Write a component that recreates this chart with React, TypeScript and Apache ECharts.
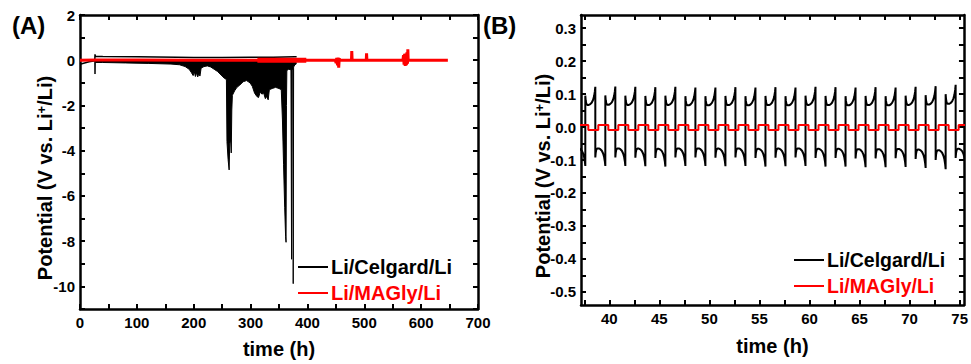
import { useEffect, useRef } from 'react';
import * as echarts from 'echarts';

const FONT = '"Liberation Sans", Arial, Helvetica, sans-serif';
const BLACK = '#000000';
const RED = '#ff0000';

// ---------------- Panel A data ----------------
const seriesNames = ['Li/Celgard/Li', 'Li/MAGly/Li'];

// Li/Celgard/Li : upper envelope of the trace (hours, V)
const celgardA_upperT = [0, 8, 16, 24, 26, 26.4, 27, 40, 100, 170, 200, 250, 300, 340, 378, 381];
const celgardA_upperV = [-0.18, -0.12, -0.07, -0.03, -0.02, 0.26, 0.18, 0.16, 0.15, 0.13, 0.12, 0.12, 0.13, 0.13, 0.15, 0.15];

// Li/Celgard/Li : lower envelope of the trace (hours, V)
const celgardA_lowerT = [26, 26.4, 26.8, 40, 80, 120, 160, 175, 185, 192, 196, 199, 201, 203, 205, 207, 209, 211, 213, 218, 224, 230, 236, 242, 248, 254, 257.5, 258.5, 260.5, 262.3, 263.3, 265, 266, 267, 268, 272, 276, 281, 287, 293, 299, 303, 307, 311, 314, 317, 320, 323, 326, 328, 331, 333, 338, 344, 350, 354, 356, 358, 360, 361.6, 362.4, 363.1, 363.8, 367, 371, 372.1, 372.8, 374.3, 375, 375.7, 378, 381];
const celgardA_lowerV = [-0.02, -0.61, -0.1, -0.1, -0.12, -0.14, -0.17, -0.2, -0.28, -0.4, -0.55, -0.68, -0.5, -0.72, -0.55, -0.74, -0.6, -0.7, -0.35, -0.28, -0.25, -0.3, -0.4, -0.5, -0.65, -0.8, -0.85, -3.6, -4.4, -4.85, -3.7, -3.5, -4.1, -2.2, -1.55, -1.35, -1.2, -1.1, -0.95, -0.9, -1.0, -1.15, -1.45, -1.6, -1.65, -1.4, -1.5, -1.45, -1.7, -1.6, -1.75, -1.3, -1.25, -1.2, -1.25, -1.3, -2.6, -4.6, -6.5, -7.8, -8.05, -2.0, -0.45, -0.4, -0.42, -8.8, -0.45, -0.4, -9.88, -0.3, -0.2, -0.15];

// Li/MAGly/Li (hours, V)
const maglyA_T = [0, 30, 100, 200, 300, 400, 449, 450.5, 451.5, 453, 454, 455, 456, 457, 477.5, 478, 478.6, 503.5, 504, 504.6, 568, 569, 570, 571, 572, 573, 574, 575, 576, 576.6, 577.2, 647];
const maglyA_V = [0, 0.01, 0.01, 0, 0, 0, 0, -0.12, 0.1, -0.22, 0.12, -0.33, 0.08, 0, 0, 0.41, 0, 0, 0.31, 0, 0, 0.22, -0.2, 0.28, -0.25, 0.3, -0.22, 0.35, -0.15, 0.48, 0, 0];
// denser cycling stretch of the MAGly trace
const maglyA_denseT = [312, 398];
const maglyA_denseV = [0, 0];

// ---------------- Panel B data ----------------
// current-reversal times of the Celgard cell (h)
const celgardB_switchT = [36.6, 37.6, 38.6, 39.6, 40.6, 41.6, 42.6, 43.6, 44.6, 45.6, 46.6, 47.6, 48.6, 49.6, 50.6, 51.6, 52.6, 53.6, 54.6, 55.6, 56.6, 57.6, 58.6, 59.6, 60.6, 61.6, 62.6, 63.6, 64.6, 65.6, 66.6, 67.6, 68.6, 69.6, 70.6, 71.6, 72.6, 73.6, 74.6, 75.6];
// end-of-half-cycle potential of each half cycle (V)
const celgardB_peakV = [-0.118, 0.122, -0.118, 0.123, -0.118, 0.122, -0.119, 0.121, -0.12, 0.122, -0.118, 0.12, -0.118, 0.12, -0.119, 0.121, -0.118, 0.12, -0.12, 0.121, -0.119, 0.12, -0.118, 0.122, -0.12, 0.121, -0.12, 0.12, -0.122, 0.121, -0.122, 0.12, -0.121, 0.122, -0.124, 0.124, -0.128, 0.128, -0.12];
// shape of one half cycle: fraction of the half-cycle time, fraction of its end potential
const celgardB_shapeT = [0, 0.04, 0.1, 0.2, 0.35, 0.5, 0.65, 0.78, 0.88, 0.95, 1];
const celgardB_shapeV = [0.78, 0.66, 0.58, 0.55, 0.55, 0.57, 0.61, 0.68, 0.77, 0.88, 1];

// MAGly cell: step times (h) and levels (V)
const maglyB_T = [36.9, 37.9, 38.9, 39.9, 40.9, 41.9, 42.9, 43.9, 44.9, 45.9, 46.9, 47.9, 48.9, 49.9, 50.9, 51.9, 52.9, 53.9, 54.9, 55.9, 56.9, 57.9, 58.9, 59.9, 60.9, 61.9, 62.9, 63.9, 64.9, 65.9, 66.9, 67.9, 68.9, 69.9, 70.9, 71.9, 72.9, 73.9, 74.9, 75.9];
const maglyB_V = [0.006, -0.009, 0.006, -0.009, 0.006, -0.009, 0.006, -0.009, 0.006, -0.009, 0.006, -0.009, 0.006, -0.009, 0.006, -0.009, 0.006, -0.009, 0.006, -0.009, 0.006, -0.009, 0.006, -0.009, 0.006, -0.009, 0.006, -0.009, 0.006, -0.009, 0.006, -0.009, 0.006, -0.009, 0.006, -0.009, 0.006, -0.009, 0.006, -0.009];

// ---------------- axes ticks / labels ----------------
const xTicksA = [0, 50, 100, 150, 200, 250, 300, 350, 400, 450, 500, 550, 600, 650, 700];
const xLabelsA = [0, 100, 200, 300, 400, 500, 600, 700];
const yTicksA = [-11, -10, -9, -8, -7, -6, -5, -4, -3, -2, -1, 0, 1, 2];
const yLabelsA = [-10, -8, -6, -4, -2, 0, 2];
const xTicksB = [37.5, 40, 42.5, 45, 47.5, 50, 52.5, 55, 57.5, 60, 62.5, 65, 67.5, 70, 72.5, 75];
const xLabelsB = [40, 45, 50, 55, 60, 65, 70, 75];
const yTicksB = [-0.5, -0.45, -0.4, -0.35, -0.3, -0.25, -0.2, -0.15, -0.1, -0.05, 0, 0.05, 0.1, 0.15, 0.2, 0.25, 0.3];
const yLabelsB = [-0.5, -0.4, -0.3, -0.2, -0.1, 0, 0.1, 0.2, 0.3];

const zip = (t: number[], v: number[]) => t.map((x, i) => [x, v[i]]);

function buildCelgardB() {
  const pts: number[][] = [];
  for (let i = 0; i < celgardB_switchT.length - 1; i++) {
    const s = celgardB_switchT[i];
    const e = celgardB_switchT[i + 1];
    const p = celgardB_peakV[i];
    for (let j = 0; j < celgardB_shapeT.length; j++) {
      pts.push([s + celgardB_shapeT[j] * (e - s), p * celgardB_shapeV[j]]);
    }
  }
  return pts;
}

const tickLabelStyle = { fontFamily: FONT, fontWeight: 'bold' as const, fontSize: 15, color: BLACK };
const axisLine = { show: true, onZero: false, lineStyle: { color: BLACK, width: 2.5 } };

function xAxisDef(grid: number, pos: 'top' | 'bottom', min: number, max: number, ticks: number[], labels: number[], name?: string, gap?: number) {
  return {
    type: 'value', gridIndex: grid, position: pos, min, max,
    axisLine,
    axisTick: { show: true, inside: true, length: 5, customValues: ticks, lineStyle: { color: BLACK, width: 2 } },
    axisLabel: { show: pos === 'bottom', customValues: labels, margin: 6, ...tickLabelStyle },
    splitLine: { show: false },
    name: name || '', nameLocation: 'middle', nameGap: gap || 30,
    nameTextStyle: { fontFamily: FONT, fontWeight: 'bold', fontSize: 20, color: BLACK },
  };
}

function yAxisDef(grid: number, pos: 'left' | 'right', min: number, max: number, ticks: number[], labels: number[], fmt?: (v: number) => string) {
  return {
    type: 'value', gridIndex: grid, position: pos, min, max,
    axisLine,
    axisTick: { show: true, inside: true, length: 5, customValues: ticks, lineStyle: { color: BLACK, width: 2 } },
    axisLabel: { show: pos === 'left', customValues: labels, margin: 5, formatter: fmt, ...tickLabelStyle },
    splitLine: { show: false },
  };
}

const yTitleRich = {
  n: { fontFamily: FONT, fontWeight: 'bold', fontSize: 20, color: BLACK },
  s: { fontFamily: FONT, fontWeight: 'bold', fontSize: 13, color: BLACK, verticalAlign: 'top', padding: [0, 0, 6, 0] },
};

function legendItems(x: number, y: number, gap: number, size: number) {
  const cols = [BLACK, RED];
  const out: any[] = [];
  seriesNames.forEach((nm, i) => {
    const yy = y + i * gap;
    out.push({ type: 'line', shape: { x1: x, y1: yy, x2: x + 30, y2: yy }, style: { stroke: cols[i], lineWidth: 2 } });
    out.push({ type: 'text', x: x + 33, y: yy, style: { text: nm, fill: cols[i], font: `bold ${size}px ${FONT}`, verticalAlign: 'middle', align: 'left' } });
  });
  return out;
}

export default function App() {
  const ref = useRef<HTMLDivElement>(null);
  useEffect(() => {
    if (!ref.current) return;
    const chart = echarts.init(ref.current, null, { renderer: 'svg', width: 971, height: 364 });
    const option: any = {
      animation: false,
      backgroundColor: '#ffffff',
      grid: [
        { left: 80, top: 15, width: 398, height: 297 },
        { left: 581, top: 15, width: 387, height: 290 },
      ],
      xAxis: [
        xAxisDef(0, 'bottom', 0, 700, xTicksA, xLabelsA, 'time (h)', 30),
        xAxisDef(0, 'top', 0, 700, xTicksA, xLabelsA),
        xAxisDef(1, 'bottom', 37.17, 75.43, xTicksB, xLabelsB, 'time (h)', 31),
        xAxisDef(1, 'top', 37.17, 75.43, xTicksB, xLabelsB),
      ],
      yAxis: [
        yAxisDef(0, 'left', -11, 2, yTicksA, yLabelsA),
        yAxisDef(0, 'right', -11, 2, yTicksA, yLabelsA),
        yAxisDef(1, 'left', -0.54, 0.34, yTicksB, yLabelsB, (v: number) => v.toFixed(1)),
        yAxisDef(1, 'right', -0.54, 0.34, yTicksB, yLabelsB),
      ],
      series: [
        {
          name: seriesNames[0], type: 'line', xAxisIndex: 0, yAxisIndex: 0, showSymbol: false, symbol: 'none',
          data: zip(celgardA_lowerT, celgardA_lowerV),
          lineStyle: { color: BLACK, width: 1 }, itemStyle: { color: BLACK },
          areaStyle: { color: BLACK, opacity: 1 },
        },
        {
          name: seriesNames[0], type: 'line', xAxisIndex: 0, yAxisIndex: 0, showSymbol: false, symbol: 'none',
          data: zip(celgardA_upperT, celgardA_upperV),
          lineStyle: { color: BLACK, width: 1.5 }, itemStyle: { color: BLACK },
        },
        {
          name: seriesNames[1], type: 'line', xAxisIndex: 0, yAxisIndex: 0, showSymbol: false, symbol: 'none',
          data: zip(maglyA_T, maglyA_V),
          lineStyle: { color: RED, width: 3 }, itemStyle: { color: RED },
        },
        {
          name: seriesNames[1], type: 'line', xAxisIndex: 0, yAxisIndex: 0, showSymbol: false, symbol: 'none',
          data: zip(maglyA_denseT, maglyA_denseV),
          lineStyle: { color: RED, width: 5 }, itemStyle: { color: RED },
        },
        {
          name: seriesNames[0], type: 'line', xAxisIndex: 2, yAxisIndex: 2, showSymbol: false, symbol: 'none',
          data: buildCelgardB(),
          lineStyle: { color: BLACK, width: 2 }, itemStyle: { color: BLACK },
        },
        {
          name: seriesNames[1], type: 'line', xAxisIndex: 2, yAxisIndex: 2, showSymbol: false, symbol: 'none', step: 'end',
          data: zip(maglyB_T, maglyB_V),
          lineStyle: { color: RED, width: 2 }, itemStyle: { color: RED },
        },
      ],
      graphic: [
        { type: 'text', x: 12, y: 25, style: { text: '(A)', font: `bold 24px ${FONT}`, fill: BLACK, verticalAlign: 'middle', align: 'left' } },
        { type: 'text', x: 483, y: 25, style: { text: '(B)', font: `bold 24px ${FONT}`, fill: BLACK, verticalAlign: 'middle', align: 'left' } },
        {
          type: 'text', x: 45, y: 178, rotation: Math.PI / 2,
          style: { text: '{n|Potential (V vs. Li}{s|+}{n|/Li)}', rich: yTitleRich, align: 'center', verticalAlign: 'middle' },
        },
        {
          type: 'text', x: 543, y: 176, rotation: Math.PI / 2,
          style: { text: '{n|Potential (V vs. Li}{s|+}{n|/Li)}', rich: yTitleRich, align: 'center', verticalAlign: 'middle' },
        },
        ...legendItems(298, 267, 26, 20),
        ...legendItems(794, 260, 26, 19.5),
      ],
    };
    chart.setOption(option);
    return () => chart.dispose();
  }, []);
  return <div ref={ref} style={{ position: 'fixed', left: 0, top: 0, width: 971, height: 364, background: '#fff' }} />;
}
